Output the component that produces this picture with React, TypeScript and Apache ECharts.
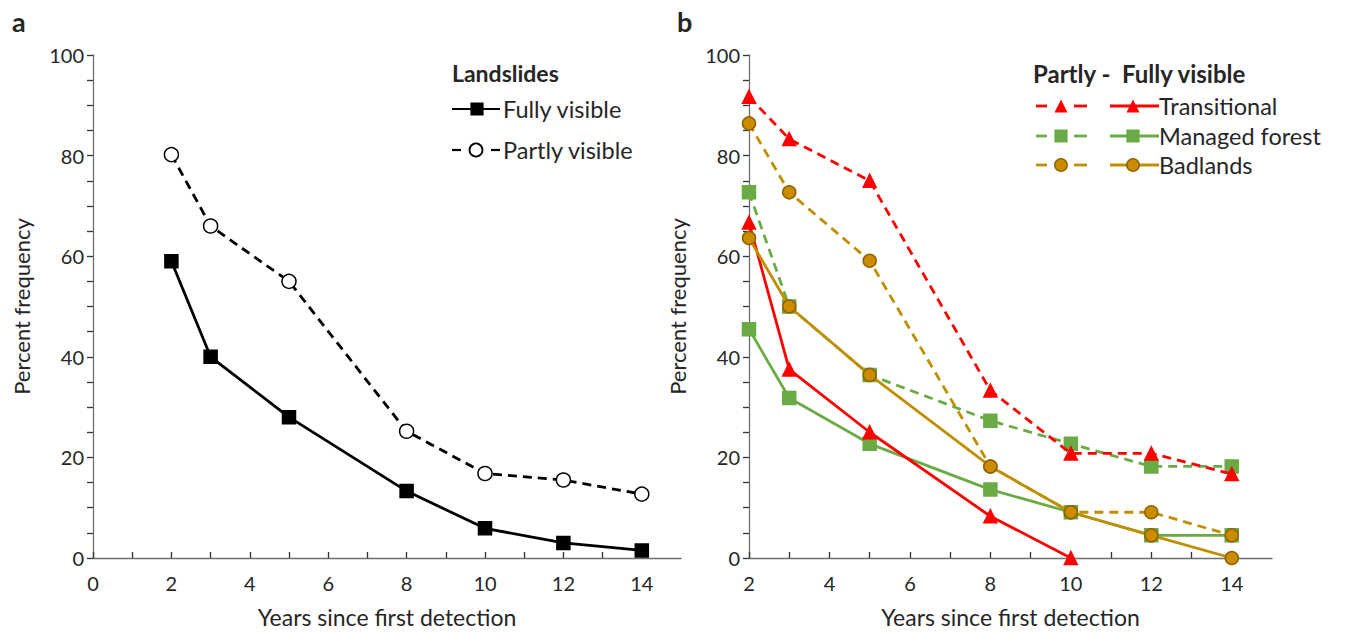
import React, { useEffect, useRef } from "react";
import * as echarts from "echarts";

// Years since first detection at which landslides were revisited
const years = [2, 3, 5, 8, 10, 12, 14];

// Panel a: all landslides
const fullyVisible = [59, 40, 28, 13.3, 5.9, 3.0, 1.5];
const partlyVisible = [80.2, 66.0, 55.0, 25.2, 16.8, 15.5, 12.7];

// Panel b: by terrain type (partly / fully visible)
const transitionalPartly = [91.7, 83.3, 75.0, 33.3, 20.8, 20.8, 16.7];
const transitionalFully = [66.7, 37.5, 25.0, 8.3, 0, null, null];
const forestPartly = [72.7, 50.0, 36.4, 27.3, 22.7, 18.2, 18.2];
const forestFully = [45.5, 31.8, 22.7, 13.6, 9.1, 4.5, 4.5];
const badlandsPartly = [86.4, 72.7, 59.1, 18.2, 9.1, 9.1, 4.5];
const badlandsFully = [63.6, 50.0, 36.4, 18.2, 9.1, 4.5, 0];

// Labelled ticks
const yTickLabels = [0, 20, 40, 60, 80, 100];
const xTickLabelsA = [0, 2, 4, 6, 8, 10, 12, 14];
const xTickLabelsB = [2, 4, 6, 8, 10, 12, 14];

const RED = "#ff0000";
const GREEN = "#6aab45";
const GOLD = "#bf8f00";
const GOLD_FILL = "#cc8c00";
const GOLD_EDGE = "#8c6400";
const TEXT = "#262626";
const AXIS = "#6e6e6e";
const FONT = "Lato, 'Open Sans', sans-serif";

const pairs = (vals: (number | null)[]) =>
  years.map((x, i) => (vals[i] === null ? null : [x, vals[i]])).filter(Boolean);

function xAxisFor(gridIndex: number, min: number, labels: number[]) {
  return {
    type: "value",
    gridIndex,
    min,
    max: 15,
    interval: 1,
    name: "Years since first detection",
    nameLocation: "middle",
    nameGap: 47,
    nameTextStyle: { fontSize: 23, color: TEXT, fontFamily: FONT },
    axisLine: { show: true, onZero: false, lineStyle: { color: AXIS, width: 1.3 } },
    axisTick: { show: true, inside: true, length: 6, lineStyle: { color: "#333", width: 1.3 } },
    axisLabel: {
      margin: 15,
      fontSize: 20,
      color: TEXT,
      fontFamily: FONT,
      showMaxLabel: false,
      formatter: (v: number) => (labels.includes(v) ? String(v) : ""),
    },
    splitLine: { show: false },
  };
}

function yAxisFor(gridIndex: number) {
  return {
    type: "value",
    gridIndex,
    min: 0,
    max: 100,
    interval: 5,
    name: "Percent frequency",
    nameLocation: "middle",
    nameGap: 61,
    nameTextStyle: { fontSize: 22, color: TEXT, fontFamily: FONT },
    axisLine: { show: true, lineStyle: { color: AXIS, width: 1.3 } },
    axisTick: { show: true, inside: false, length: 6, lineStyle: { color: "#333", width: 1.3 } },
    axisLabel: {
      margin: 9,
      fontSize: 20,
      color: TEXT,
      fontFamily: FONT,
      formatter: (v: number) => (yTickLabels.includes(v) ? String(v) : ""),
    },
    splitLine: { show: false },
  };
}

function lineSeries(
  name: string,
  idx: number,
  data: any[],
  color: string,
  dashed: boolean,
  symbol: string,
  fill: string,
  edge: string,
  size: number,
  z: number
) {
  return {
    type: "line",
    name,
    xAxisIndex: idx,
    yAxisIndex: idx,
    data,
    z,
    symbol,
    symbolSize: size,
    showAllSymbol: true,
    lineStyle: { color, width: 2.8, type: dashed ? [9, 6] : "solid" },
    itemStyle: { color: fill, borderColor: edge, borderWidth: 1.5, opacity: 1 },
    emphasis: { disabled: true },
  };
}

// legend helpers (graphic elements)
const txt = (x: number, y: number, text: string, bold = false, size = 20) => ({
  type: "text",
  x,
  y,
  style: {
    text,
    fill: TEXT,
    font: `${bold ? "bold " : ""}${size}px ${FONT}`,
    textVerticalAlign: "middle",
    verticalAlign: "middle",
  },
});
const seg = (x1: number, x2: number, y: number, color: string, w = 2.8) => ({
  type: "line",
  shape: { x1, y1: y, x2, y2: y },
  style: { stroke: color, lineWidth: w },
});
const square = (cx: number, cy: number, s: number, fill: string, stroke: string) => ({
  type: "rect",
  shape: { x: cx - s / 2, y: cy - s / 2, width: s, height: s },
  style: { fill, stroke, lineWidth: 1.2 },
});
const dot = (cx: number, cy: number, r: number, fill: string, stroke: string, lw = 1.5) => ({
  type: "circle",
  shape: { cx, cy, r },
  style: { fill, stroke, lineWidth: lw },
});
const tri = (cx: number, cy: number, s: number, fill: string) => ({
  type: "polygon",
  shape: {
    points: [
      [cx, cy - s / 2],
      [cx + s / 2, cy + s / 2],
      [cx - s / 2, cy + s / 2],
    ],
  },
  style: { fill },
});

export default function App() {
  const ref = useRef<HTMLDivElement>(null);

  useEffect(() => {
    if (!ref.current) return;
    const chart = echarts.init(ref.current, undefined, { renderer: "svg" });

    const rowsB = [
      { y: 106, name: "Transitional", color: RED, kind: "tri" },
      { y: 136, name: "Managed forest", color: GREEN, kind: "sq" },
      { y: 165, name: "Badlands", color: GOLD, kind: "dot" },
    ];
    const markerB = (kind: string, cx: number, cy: number) =>
      kind === "tri"
        ? tri(cx, cy, 13, RED)
        : kind === "sq"
        ? square(cx, cy, 12, GREEN, GREEN)
        : dot(cx, cy, 6.2, GOLD_FILL, GOLD_EDGE);

    const legendB: any[] = [txt(1033, 73, "Partly -  Fully visible", true, 24)];
    rowsB.forEach((r) => {
      legendB.push(seg(1036, 1047, r.y, r.color));
      legendB.push(seg(1074, 1087, r.y, r.color));
      legendB.push(markerB(r.kind, 1061, r.y));
      legendB.push(seg(1110, 1159, r.y, r.color));
      legendB.push(markerB(r.kind, 1133, r.y));
      legendB.push(txt(1159, r.y, r.name, false, 23.5));
    });

    const legendA: any[] = [
      txt(452, 73, "Landslides", true, 23),
      seg(452, 500, 109, "#000", 2.2),
      square(477, 109, 12, "#000", "#000"),
      txt(503, 109, "Fully visible", false, 23.5),
      seg(452, 461, 150, "#000", 2.2),
      seg(491, 500, 150, "#000", 2.2),
      dot(476, 150, 6.5, "#fff", "#000", 1.8),
      txt(503, 150, "Partly visible", false, 23.5),
    ];

    chart.setOption({
      animation: false,
      textStyle: { fontFamily: FONT },
      grid: [
        { left: 93, top: 55, width: 588, height: 504 },
        { left: 749, top: 55, width: 523, height: 504 },
      ],
      xAxis: [xAxisFor(0, 0, xTickLabelsA), xAxisFor(1, 2, xTickLabelsB)],
      yAxis: [yAxisFor(0), yAxisFor(1)],
      series: [
        lineSeries("Fully visible", 0, pairs(fullyVisible), "#000", false, "rect", "#000", "#000", 13, 3),
        lineSeries("Partly visible", 0, pairs(partlyVisible), "#000", true, "circle", "#fff", "#000", 14, 3),
        lineSeries("Managed forest (partly)", 1, pairs(forestPartly), GREEN, true, "rect", GREEN, GREEN, 13, 2),
        lineSeries("Managed forest (fully)", 1, pairs(forestFully), GREEN, false, "rect", GREEN, GREEN, 13, 2),
        lineSeries("Transitional (partly)", 1, pairs(transitionalPartly), RED, true, "triangle", RED, RED, 13, 3),
        lineSeries("Transitional (fully)", 1, pairs(transitionalFully), RED, false, "triangle", RED, RED, 13, 3),
        lineSeries("Badlands (partly)", 1, pairs(badlandsPartly), GOLD, true, "circle", GOLD_FILL, GOLD_EDGE, 13, 4),
        lineSeries("Badlands (fully)", 1, pairs(badlandsFully), GOLD, false, "circle", GOLD_FILL, GOLD_EDGE, 13, 4),
      ],
      graphic: [
        txt(12, 21, "a", true, 27),
        txt(677, 21, "b", true, 27),
        ...legendA,
        ...legendB,
      ],
    });

    return () => chart.dispose();
  }, []);

  return (
    <div
      ref={ref}
      style={{ position: "absolute", left: 0, top: 0, width: 1346, height: 633, background: "#fff" }}
    />
  );
}
